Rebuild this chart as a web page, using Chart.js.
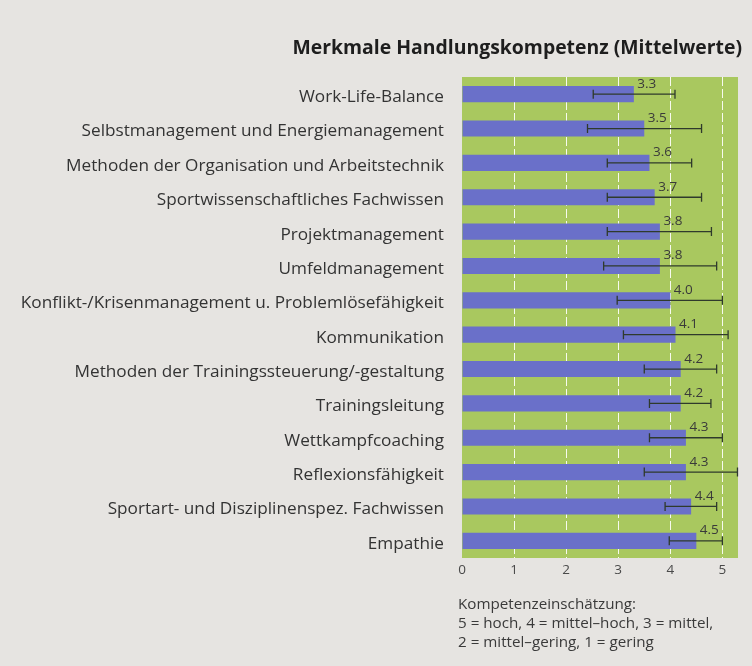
<!DOCTYPE html>
<html>
<head>
<meta charset="utf-8">
<script src="https://cdn.jsdelivr.net/npm/chart.js@4.4.1/dist/chart.umd.min.js"></script>
<style>
    html, body { margin: 0; padding: 0; background: #e6e4e1; }
    #wrap { width: 752px; height: 666px; position: relative; }
</style>
</head>
<body>
<div id="wrap"><canvas id="kompetenzChart" width="752" height="666"></canvas></div>
<script>
const categories = [
    'Work-Life-Balance',
    'Selbstmanagement und Energiemanagement',
    'Methoden der Organisation und Arbeitstechnik',
    'Sportwissenschaftliches Fachwissen',
    'Projektmanagement',
    'Umfeldmanagement',
    'Konflikt-/Krisenmanagement u. Problemlösefähigkeit',
    'Kommunikation',
    'Methoden der Trainingssteuerung/-gestaltung',
    'Trainingsleitung',
    'Wettkampfcoaching',
    'Reflexionsfähigkeit',
    'Sportart- und Disziplinenspez. Fachwissen',
    'Empathie'
];
const meanValues = [3.3, 3.5, 3.6, 3.7, 3.8, 3.8, 4.0, 4.1, 4.2, 4.2, 4.3, 4.3, 4.4, 4.5];
const errorLow  = [2.52, 2.41, 2.79, 2.79, 2.79, 2.72, 2.98, 3.1, 3.5, 3.6, 3.6, 3.5, 3.9, 3.98];
const errorHigh = [4.09, 4.6, 4.41, 4.6, 4.79, 4.89, 5.0, 5.11, 4.89, 4.78, 5.0, 5.29, 4.89, 5.0];
const xTicks = [0, 1, 2, 3, 4, 5];

const titleText = 'Merkmale Handlungskompetenz (Mittelwerte)';
const noteLines = [
    'Kompetenzeinschätzung:',
    '5 = hoch, 4 = mittel–hoch, 3 = mittel,',
    '2 = mittel–gering, 1 = gering'
];

const FONT = '"Open Sans", "Noto Sans", sans-serif';

// green plot background
const plotBackground = {
    id: 'plotBackground',
    beforeDraw(chart) {
        const { ctx, chartArea } = chart;
        ctx.save();
        ctx.fillStyle = '#a9c85f';
        ctx.fillRect(chartArea.left, chartArea.top, chartArea.right - chartArea.left, chartArea.bottom - chartArea.top);
        ctx.restore();
    }
};

// whiskers and value labels
const errorBars = {
    id: 'errorBars',
    afterDatasetsDraw(chart) {
        const { ctx } = chart;
        const xScale = chart.scales.x;
        const yScale = chart.scales.y;
        const meta = chart.getDatasetMeta(0);
        ctx.save();
        ctx.strokeStyle = '#2f3a2c';
        ctx.lineWidth = 1.3;
        meta.data.forEach((bar, i) => {
            const y = yScale.getPixelForValue(i);
            const x1 = xScale.getPixelForValue(errorLow[i]);
            const x2 = xScale.getPixelForValue(errorHigh[i]);
            ctx.beginPath();
            ctx.moveTo(x1, y); ctx.lineTo(x2, y);
            ctx.moveTo(x1, y - 4.5); ctx.lineTo(x1, y + 4.5);
            ctx.moveTo(x2, y - 4.5); ctx.lineTo(x2, y + 4.5);
            ctx.stroke();
        });
        ctx.fillStyle = '#3a3a3a';
        ctx.font = '13.5px ' + FONT;
        ctx.textAlign = 'center';
        ctx.textBaseline = 'alphabetic';
        meta.data.forEach((bar, i) => {
            const x = xScale.getPixelForValue(meanValues[i]) + 13;
            ctx.fillText(meanValues[i].toFixed(1), x, bar.y - 6.5);
        });
        ctx.restore();
    }
};

// title and footnote
const textBlocks = {
    id: 'textBlocks',
    afterDraw(chart) {
        const { ctx, chartArea } = chart;
        ctx.save();
        ctx.fillStyle = '#1e1e1e';
        ctx.font = 'bold 19.4px ' + FONT;
        ctx.textAlign = 'right';
        ctx.textBaseline = 'alphabetic';
        ctx.fillText(titleText, 742, 54);
        ctx.fillStyle = '#3a3a3a';
        ctx.font = '15.2px ' + FONT;
        ctx.textAlign = 'left';
        noteLines.forEach((line, i) => {
            ctx.fillText(line, chartArea.left - 4, 609 + i * 19);
        });
        ctx.restore();
    }
};

new Chart(document.getElementById('kompetenzChart'), {
    type: 'bar',
    data: {
        labels: categories,
        datasets: [{
            data: meanValues,
            backgroundColor: '#6a70c9',
            borderWidth: 0,
            barPercentage: 0.47,
            categoryPercentage: 1.0
        }]
    },
    options: {
        indexAxis: 'y',
        responsive: false,
        animation: false,
        layout: { padding: { left: 0, right: 14, top: 77, bottom: 78 } },
        plugins: {
            legend: { display: false },
            tooltip: { enabled: false }
        },
        scales: {
            x: {
                min: 0,
                max: 5.3,
                afterFit: (scale) => { scale.height = 30; },
                afterBuildTicks: (scale) => { scale.ticks = xTicks.map(v => ({ value: v })); },
                grid: {
                    drawTicks: false,
                    lineWidth: 1,
                    color: (c) => c.tick && c.tick.value === 0 ? 'rgba(0,0,0,0)' : 'rgba(255,255,255,0.9)'
                },
                border: { display: false, dash: [9, 3] },
                ticks: {
                    padding: 4,
                    color: '#4a4a4a',
                    font: { family: FONT, size: 13.5 }
                }
            },
            y: {
                afterFit: (scale) => { scale.width = 462; },
                border: { display: false },
                grid: { display: false, drawTicks: false },
                ticks: {
                    padding: 18,
                    labelOffset: 3,
                    color: '#333333',
                    font: { family: FONT, size: 17.2 }
                }
            }
        }
    },
    plugins: [plotBackground, errorBars, textBlocks]
});
</script>
</body>
</html>
